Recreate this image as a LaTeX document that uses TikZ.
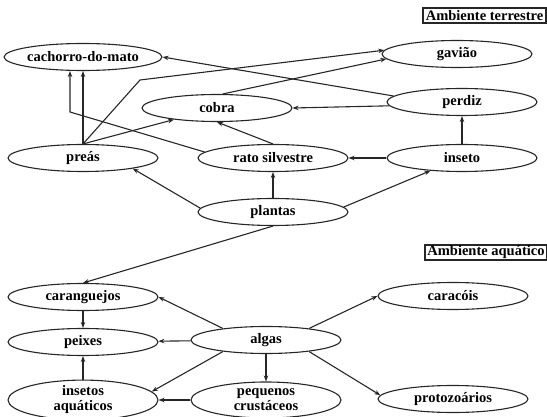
\documentclass[tikz,border=0pt]{standalone}
\usepackage{fontspec}
\setmainfont{Liberation Serif}
\usetikzlibrary{
    shapes.geometric,
    arrows.meta,
    positioning,
    calc
}

\begin{document}
\begin{tikzpicture}[x=1pt, y=-1pt,
    species/.style={ellipse, draw=black!85, line width=1.1pt, minimum width=150pt,
          minimum height=27pt, inner sep=0pt, align=center,
          font=\fontsize{14.5}{15}\selectfont\bfseries},
    ambiente/.style={draw=black!85, line width=1.2pt, inner sep=1pt,
          minimum height=15pt, font=\fontsize{14.5}{15}\selectfont\bfseries},
    feeds/.style={draw=black!85, line width=1.1pt, -{Stealth[length=6pt, width=4.5pt]}}]
    \useasboundingbox (0,0) rectangle (547,417);

    % Terrestrial food web
    \node[ambiente, minimum width=123pt] (terrestre) at (484.5,15.5) {Ambiente terrestre};
    \node[species] (cachorro) at (83,57) {cachorro-do-mato};
    \node[species] (gaviao) at (457,54) {gavião};
    \node[species] (perdiz) at (462,102) {perdiz};
    \node[species] (cobra) at (217,108) {cobra};
    \node[species] (preas) at (83,158) {preás};
    \node[species] (rato) at (273,158) {rato silvestre};
    \node[species] (inseto) at (462,158) {inseto};
    \node[species] (plantas) at (273,212) {plantas};

    % Bends
    \coordinate (ratobend) at (70,112);
    \coordinate (preasbend) at (140,80);

    \draw[feeds] (preas.north) -- (preas.north |- cachorro.south);
    \draw[feeds] (rato.175) -- (ratobend) -- (ratobend |- cachorro.south);
    \draw[feeds] (preas.north) -- (preasbend) -- (gaviao.177);
    \draw[feeds] (preas.north) -- (cobra);
    \draw[feeds] (cobra.68) -- (gaviao.184);
    \draw[feeds] (perdiz.175) -- (cachorro.east);
    \draw[feeds] (perdiz.183) -- (cobra.east);
    \draw[feeds] (inseto) -- (perdiz);
    \draw[feeds] (inseto) -- (rato);
    \draw[feeds] (rato.north) -- (cobra.south);
    \draw[feeds] (plantas) -- (rato);
    \draw[feeds] (plantas.177) -- (preas.-12);
    \draw[feeds] (plantas.4) -- (inseto.202);

    % Aquatic food web
    \node[ambiente, minimum width=122pt] (aquatico) at (486,252.5) {Ambiente aquático};
    \node[species] (caranguejos) at (83,297) {caranguejos};
    \node[species] (caracois) at (453,296) {caracóis};
    \node[species] (peixes) at (83,342) {peixes};
    \node[species] (algas) at (266,340) {algas};
    \node[species, minimum height=36pt] (insetos) at (83,400) {insetos\\aquáticos};
    \node[species, minimum height=36pt] (pequenos) at (266,400) {pequenos\\crustáceos};
    \node[species] (protozoarios) at (453,399) {protozoários};

    \draw[feeds] (plantas.south) -- (caranguejos.north);
    \draw[feeds] (caranguejos) -- (peixes);
    \draw[feeds] (algas.165) -- (caranguejos.east);
    \draw[feeds] (algas) -- (peixes);
    \draw[feeds] (algas.15) -- (caracois.west);
    \draw[feeds] (algas.195) -- (insetos.7);
    \draw[feeds] (algas) -- (pequenos);
    \draw[feeds] (algas.-15) -- (protozoarios.177);
    \draw[feeds] (pequenos) -- (insetos);
    \draw[feeds] (insetos) -- (peixes);
\end{tikzpicture}
\end{document}
